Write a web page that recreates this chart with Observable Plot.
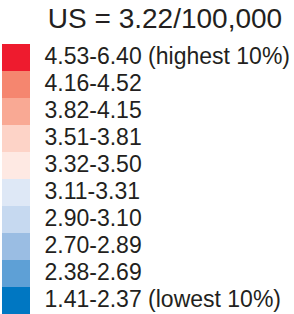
<!DOCTYPE html>
<html>
<head>
<meta charset="utf-8">
<script src="https://cdn.jsdelivr.net/npm/d3@7"></script>
<script src="https://cdn.jsdelivr.net/npm/@observablehq/plot@0.6"></script>
<style>
  html, body { margin: 0; padding: 0; background: #fff; }
  #chart svg { display: block; }
</style>
</head>
<body>
<div id="chart"></div>
<script>
const title = "US = 3.22/100,000";
const labels = [
  "4.53-6.40 (highest 10%)",
  "4.16-4.52",
  "3.82-4.15",
  "3.51-3.81",
  "3.32-3.50",
  "3.11-3.31",
  "2.90-3.10",
  "2.70-2.89",
  "2.38-2.69",
  "1.41-2.37 (lowest 10%)"
];
const colors = [
  "#ee1b2e", "#f5866f", "#f9a994", "#fdd3c7", "#fee9e3",
  "#dee8f6", "#c6d9f0", "#9abde3", "#5ea0d6", "#0077c2"
];

const rows = labels.map((label, i) => ({label, color: colors[i]}));
const font = "'Liberation Sans', Arial, Helvetica, sans-serif";

const plot = Plot.plot({
  width: 294,
  height: 314,
  marginTop: 43,
  marginBottom: 0,
  marginLeft: 0,
  marginRight: 0,
  style: {fontFamily: font, background: "#fff"},
  x: {type: "band", domain: ["swatch"], range: [2, 30], padding: 0, axis: null},
  y: {type: "band", domain: labels, padding: 0, axis: null},
  marks: [
    Plot.cell(rows, {x: () => "swatch", y: "label", fill: "color", inset: 0}),
    Plot.text(rows, {
      x: () => "swatch", y: "label", text: "label",
      textAnchor: "start", lineAnchor: "bottom", dx: 28, dy: 5.5,
      fontSize: 23, fill: "#231f20"
    }),
    Plot.text([title], {
      frameAnchor: "top-left", text: d => d,
      textAnchor: "middle", lineAnchor: "bottom", dx: 164.5, dy: -16,
      fontSize: 28, fill: "#231f20"
    })
  ]
});
document.getElementById("chart").appendChild(plot);
</script>
</body>
</html>
